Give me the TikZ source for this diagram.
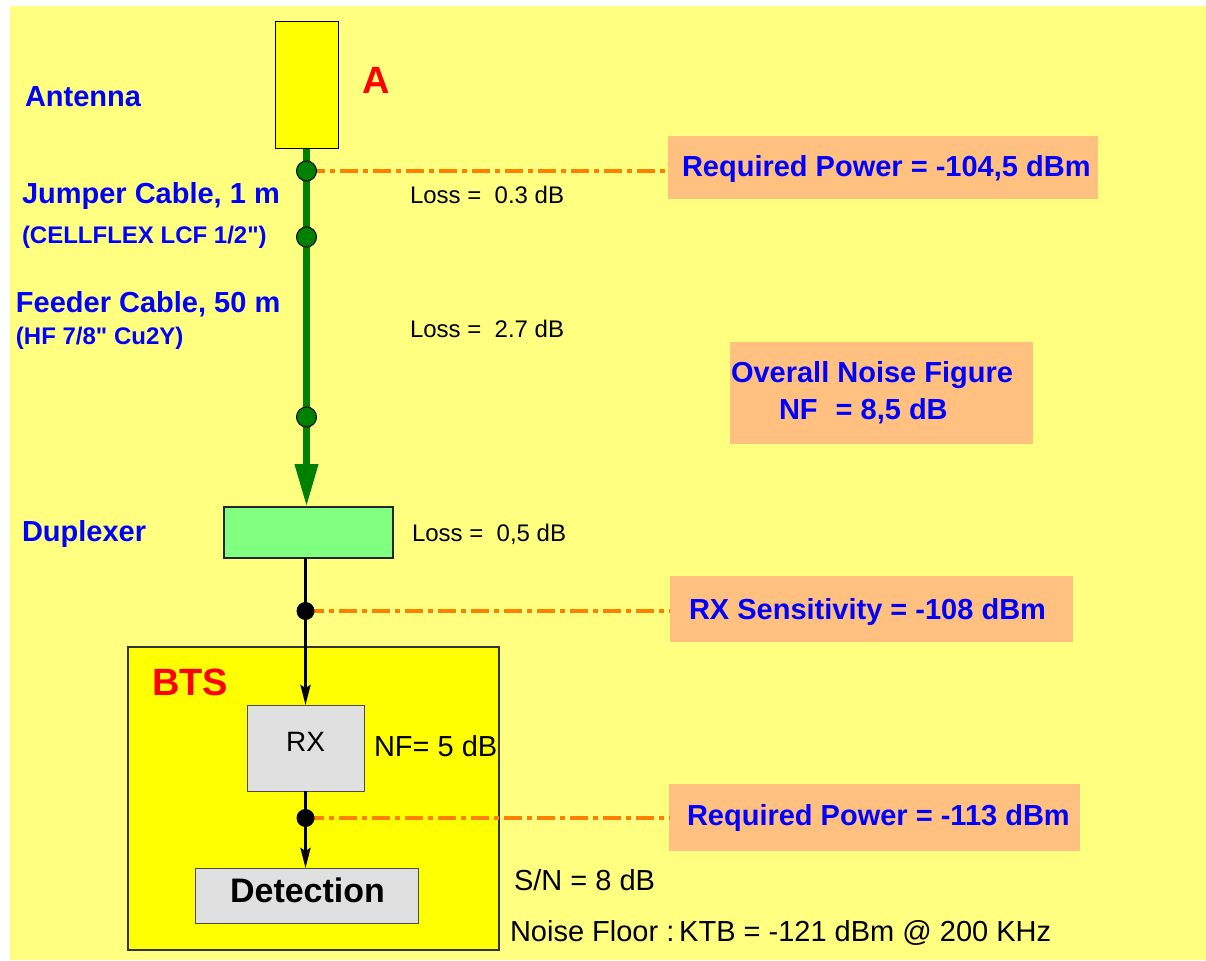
\documentclass[tikz,border=0pt]{standalone}
\usepackage{fontspec}
\setmainfont{Liberation Sans}[Ligatures=TeXOff]
\usetikzlibrary{arrows.meta}
\definecolor{bgy}{HTML}{FFFF80}
\definecolor{yel}{HTML}{FFFF00}
\definecolor{grn}{HTML}{008000}
\definecolor{dupg}{HTML}{80FF80}
\definecolor{org}{HTML}{FF8000}
\definecolor{orgbox}{HTML}{FFC080}
\definecolor{lgray}{HTML}{E0E0E0}
\definecolor{blu}{HTML}{0000FF}
\definecolor{rd}{HTML}{FF0000}
\newcommand\fsz[1]{\fontsize{#1pt}{#1pt}\selectfont}
\begin{document}
\begin{tikzpicture}[x=1pt,y=-1pt,
  box/.style={rectangle,inner sep=0,outer sep=0},
  lbl/.style={anchor=base west,inner sep=0,outer sep=0},
  bluelbl/.style={lbl,text=blu,font=\fsz{29}\bfseries},
  bluesmall/.style={lbl,text=blu,font=\fsz{24}\bfseries},
  blacklbl/.style={lbl,text=black,font=\fsz{29}},
  losslbl/.style={lbl,text=black,font=\fsz{24}},
  redlbl/.style={lbl,text=rd,font=\fsz{38}\bfseries},
  infobox/.style={box,fill=orgbox},
  gdot/.style={circle,fill=grn,draw=black,line width=1pt,minimum size=20pt,inner sep=0},
  bdot/.style={circle,fill=black,minimum size=18pt,inner sep=0},
  leader/.style={draw=org,line width=4.5pt,dash pattern=on 18pt off 5pt on 5pt off 5pt},
  feed/.style={draw=grn,line width=7pt,-{Triangle[length=43pt,width=22pt]}},
  sig/.style={draw=black,line width=3pt,-{Stealth[length=20pt,width=10pt,inset=3pt]}}
]
\useasboundingbox (0,0) rectangle (1206,960);
\fill[bgy] (10,6) rectangle (1206,960);

% BTS enclosure
\node[box,fill=yel,draw=black!80,line width=1.5pt,minimum width=371pt,minimum height=303pt] (bts) at (313.5,798.5) {};

% info boxes
\node[infobox,minimum width=430pt,minimum height=63pt] (rp1) at (883,167.5) {};
\node[infobox,minimum width=303pt,minimum height=102pt] (nfb) at (881.5,393) {};
\node[infobox,minimum width=403pt,minimum height=66pt] (sens) at (871.5,609) {};
\node[infobox,minimum width=411pt,minimum height=67pt] (rp2) at (874.5,817.5) {};

% components
\node[box,fill=yel,draw=black,line width=1pt,minimum width=63pt,minimum height=127pt] (ant) at (306.5,85.5) {};
\node[box,fill=dupg,draw=black!85,line width=1.5pt,minimum width=169pt,minimum height=51pt] (dup) at (308.5,532.5) {};
\node[box,fill=lgray,draw=black!70,line width=1pt,minimum width=117pt,minimum height=86pt] (rx) at (305.5,748) {};
\node[box,fill=lgray,draw=black!70,line width=1pt,minimum width=223pt,minimum height=55pt] (det) at (306.5,895.5) {};

% connection points
\coordinate (p1) at (306.5,171);
\coordinate (p2) at (306.5,237);
\coordinate (p3) at (306.5,417);
\coordinate (q1) at (305.5,611);
\coordinate (q2) at (305.5,818);

% cables
\draw[feed] (ant.south) -- (ant.south |- dup.north);
\draw[sig] (rx.north |- dup.south) -- (rx.north);
\draw[sig] (rx.south) -- (rx.south |- det.north);

% leaders
\draw[leader] (p1) -- (p1 -| rp1.west);
\draw[leader] (q1) -- (q1 -| sens.west);
\draw[leader] (q2) -- (q2 -| rp2.west);

% dots
\node[gdot] (d1) at (p1) {};
\node[gdot] (d2) at (p2) {};
\node[gdot] (d3) at (p3) {};
\node[bdot] (b1) at (q1) {};
\node[bdot] (b2) at (q2) {};

% labels left
\node[bluelbl] (tant) at (25,107) {Antenna};
\node[redlbl] (tA) at (362,94) {A};
\node[bluelbl] (tjump) at (22,204) {Jumper Cable, 1 m};
\node[bluesmall] (tcell) at (22,243) {(CELLFLEX LCF 1/2")};
\node[bluelbl] (tfeed) at (16,312) {Feeder Cable, 50 m};
\node[bluesmall] (thf) at (16,344) {(HF 7/8" Cu2Y)};
\node[bluelbl] (tdup) at (22,541) {Duplexer};
\node[redlbl] (tbts) at (152,695) {BTS};

% loss labels
\node[losslbl] (l1) at (410,204) {Loss = ~0.3 dB};
\node[losslbl] (l2) at (410,337) {Loss = ~2.7 dB};
\node[losslbl] (l3) at (412,541) {Loss = ~0,5 dB};

% box texts
\node[anchor=base,inner sep=0,font=\fsz{28}] (trx) at (305.5,751) {RX};
\node[blacklbl] (tnf) at (374,756) {NF= 5 dB};
\node[anchor=base,inner sep=0,font=\fsz{34}\bfseries] (tdet) at (307.5,902) {Detection};

% info texts
\node[bluelbl] (trp1) at (682,177) {Required Power = -104,5 dBm};
\node[bluelbl] (tnf1) at (731,382) {Overall Noise Figure};
\node[bluelbl] (tnf2) at (779,419) {NF\hspace{18pt}= 8,5 dB};
\node[bluelbl] (tsens) at (689,619) {RX Sensitivity = -108 dBm};
\node[bluelbl] (trp2) at (687,825) {Required Power = -113 dBm};
\node[blacklbl] (tsn) at (514,890) {S/N = 8 dB};
\node[blacklbl] (tnoise) at (510,941) {Noise Floor :\,KTB = -121 dBm @ 200 KHz};
\end{tikzpicture}
\end{document}
